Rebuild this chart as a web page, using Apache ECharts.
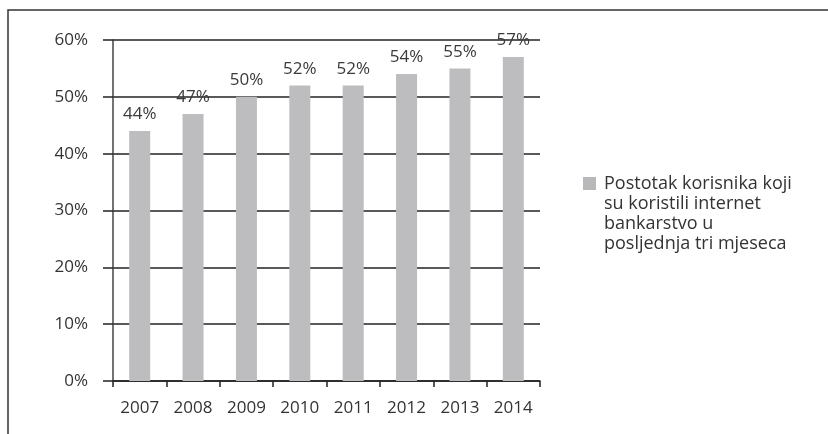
<!DOCTYPE html>
<html>
<head>
<meta charset="utf-8">
<script src="https://cdn.jsdelivr.net/npm/echarts@6/dist/echarts.min.js"></script>
<style>
html,body{margin:0;padding:0;background:#fff;}
#chart{width:828px;height:434px;}
</style>
</head>
<body>
<div id="chart"></div>
<script>
const years = ['2007','2008','2009','2010','2011','2012','2013','2014'];
const values = [44, 47, 50, 52, 52, 54, 55, 57];
const yTicks = [0, 10, 20, 30, 40, 50, 60];
const seriesName = 'Postotak korisnika koji\nsu koristili internet\nbankarstvo u\nposljednja tri mjeseca';

const FONT = '"Open Sans"';
const chart = echarts.init(document.getElementById('chart'), null, {renderer: 'canvas'});
chart.setOption({
  animation: false,
  backgroundColor: '#fff',
  grid: {left: 113, right: 288, top: 40, bottom: 53, containLabel: false},
  xAxis: {
    type: 'category',
    data: years,
    axisLine: {show: true, lineStyle: {color: '#222', width: 1.5}},
    axisTick: {show: true, alignWithLabel: false, length: 6, lineStyle: {color: '#222', width: 1.5}},
    axisLabel: {color: '#333', fontSize: 17, fontFamily: FONT, margin: 19}
  },
  yAxis: {
    type: 'value',
    min: yTicks[0],
    max: yTicks[yTicks.length - 1],
    interval: 10,
    axisLine: {show: true, lineStyle: {color: '#444', width: 1.5}},
    axisTick: {show: true, inside: false, length: 10, lineStyle: {color: '#222', width: 1.5}},
    axisLabel: {color: '#333', fontSize: 17, fontFamily: FONT, margin: 25, formatter: v => v + '%'},
    splitLine: {show: true, lineStyle: {color: '#222', width: 1.5}}
  },
  series: [{
    name: seriesName,
    type: 'bar',
    data: values,
    barWidth: 21,
    itemStyle: {color: '#bdbdbf'},
    label: {
      show: true,
      position: 'top',
      distance: 8,
      color: '#3a3a3a',
      fontSize: 17,
      fontFamily: FONT,
      formatter: p => p.value + '%'
    }
  }],
  graphic: [
    {type: 'polyline', shape: {points: [[8, 434], [8, 10], [828, 10]]}, style: {stroke: '#333', lineWidth: 1.5, fill: null}},
    {type: 'rect', shape: {x: 583, y: 177, width: 13, height: 13}, style: {fill: '#b8b8ba'}},
    {type: 'text', x: 604, y: 174, style: {text: seriesName, fill: '#333', fontSize: 18, fontFamily: FONT, lineHeight: 20, verticalAlign: 'top'}}
  ]
});
</script>
</body>
</html>
